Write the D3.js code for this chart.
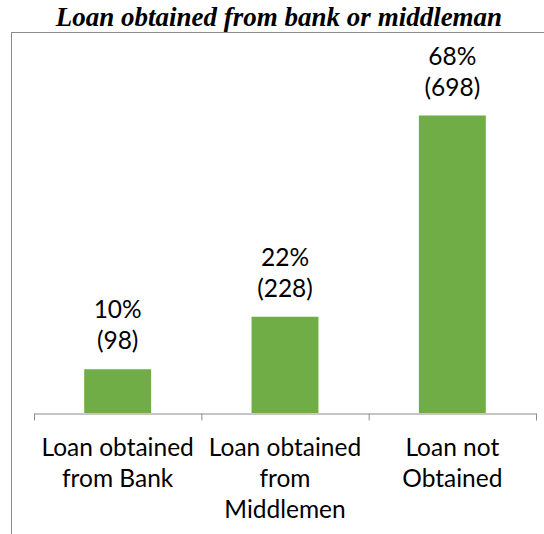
<!DOCTYPE html>
<html>
<head>
<meta charset="utf-8">
<script src="https://cdn.jsdelivr.net/npm/d3@7"></script>
<style>
  html, body { margin: 0; padding: 0; background: #fff; }
  svg { display: block; }
</style>
</head>
<body>
<svg id="chart" width="544" height="534"></svg>
<script>
// Survey results: where respondents obtained loans
const categories = [
  ["Loan obtained", "from Bank"],
  ["Loan obtained", "from", "Middlemen"],
  ["Loan not", "Obtained"]
];
const percents = [10, 22, 68];
const counts = [98, 228, 698];
const chartTitle = "Loan obtained from bank or middleman";

const W = 544, H = 534;
const svg = d3.select("#chart");
const labelFont = "Lato, 'Noto Sans', sans-serif";
const labelSize = 24.5;

// Chart area frame (extends past the right and bottom edges)
svg.append("rect")
  .attr("x", 11.5).attr("y", 32.5)
  .attr("width", W + 20).attr("height", H + 20)
  .attr("fill", "none").attr("stroke", "#8c8c8c").attr("stroke-width", 1);

// Title
svg.append("text")
  .attr("x", 279).attr("y", 26)
  .attr("text-anchor", "middle")
  .attr("font-family", "'Liberation Serif', 'Times New Roman', serif")
  .attr("font-style", "italic").attr("font-weight", "bold")
  .attr("font-size", 27)
  .attr("fill", "#000")
  .text(chartTitle);

const plot = { left: 34, right: 536, top: 63, bottom: 413 };

const x = d3.scaleBand()
  .domain(d3.range(categories.length))
  .range([plot.left, plot.right])
  .paddingInner(0.6).paddingOuter(0.3);

const y = d3.scaleLinear().domain([0, 80]).range([plot.bottom, plot.top]);

// Bars
svg.append("g").selectAll("rect")
  .data(percents)
  .join("rect")
  .attr("x", (d, i) => x(i))
  .attr("y", d => y(d))
  .attr("width", x.bandwidth())
  .attr("height", d => y(0) - y(d))
  .attr("fill", "#70ad47");

// Category axis: baseline with ticks between categories
const axis = d3.axisBottom(
    d3.scaleLinear().domain([0, categories.length]).range([plot.left, plot.right]))
  .tickValues(d3.range(categories.length + 1))
  .tickSize(7)
  .tickSizeOuter(0)
  .tickFormat("");
const gAxis = svg.append("g")
  .attr("transform", `translate(0,${plot.bottom + 0.5})`)
  .call(axis);
gAxis.select(".domain").attr("stroke", "#8c8c8c");
gAxis.selectAll(".tick line").attr("stroke", "#8c8c8c");

// Category labels (wrapped lines)
const catG = svg.append("g")
  .attr("font-family", labelFont).attr("font-size", labelSize)
  .attr("fill", "#000").attr("text-anchor", "middle");
categories.forEach((lines, i) => {
  const cx = x(i) + x.bandwidth() / 2;
  const t = catG.append("text").attr("x", cx).attr("y", 456);
  lines.forEach((ln, j) => {
    t.append("tspan")
      .attr("x", cx)
      .attr("dy", j === 0 ? 0 : 31)
      .text(ln);
  });
});

// Data labels: percent and count above each bar
const lblG = svg.append("g")
  .attr("font-family", labelFont).attr("font-size", labelSize)
  .attr("fill", "#000").attr("text-anchor", "middle");
percents.forEach((p, i) => {
  const cx = x(i) + x.bandwidth() / 2;
  lblG.append("text").attr("x", cx).attr("y", y(p) - 51).text(p + "%");
  lblG.append("text").attr("x", cx).attr("y", y(p) - 20).text("(" + counts[i] + ")");
});
</script>
</body>
</html>
